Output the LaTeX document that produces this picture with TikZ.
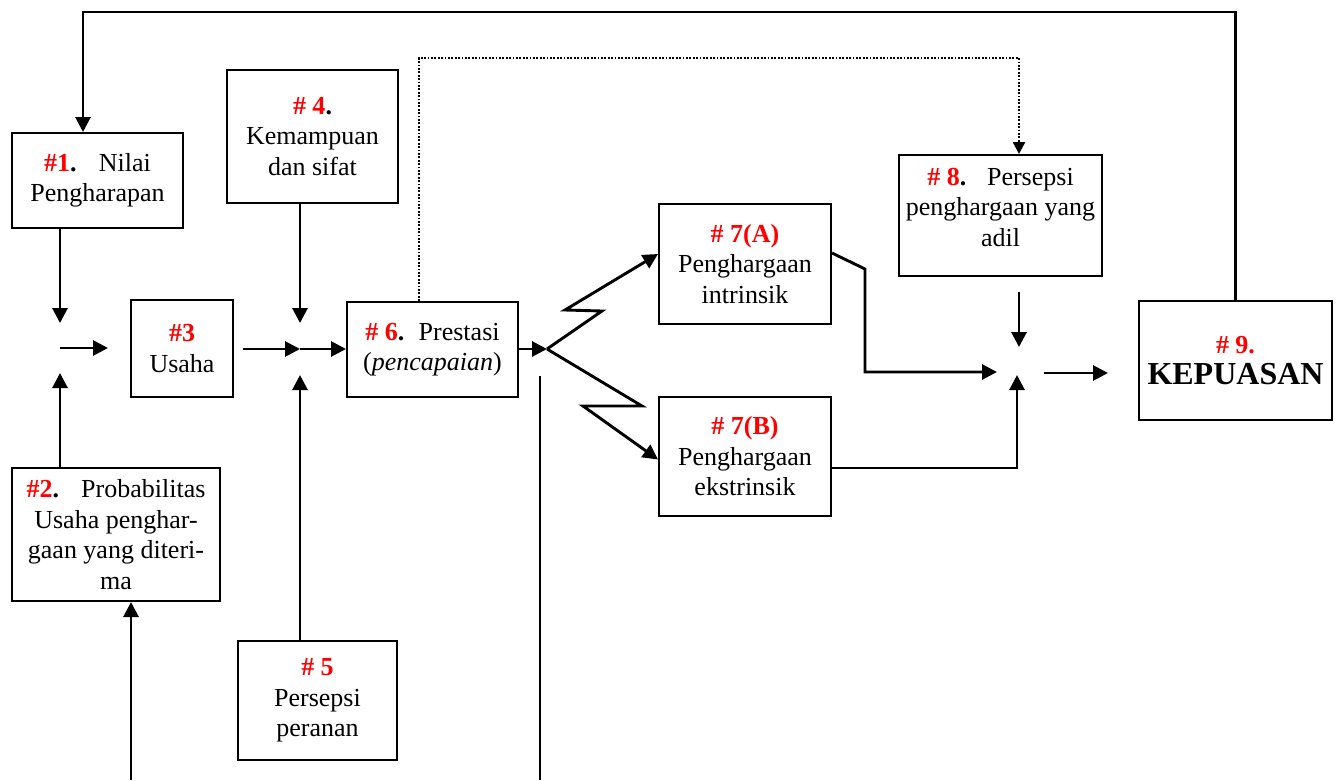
\documentclass[tikz,border=0pt]{standalone}
\usepackage{fontspec}
\setmainfont{Liberation Serif}
\usetikzlibrary{arrows.meta}
% red bold step number
\newcommand\tagnum[1]{\textcolor{red}{\textbf{#1}}}
\begin{document}
\begin{tikzpicture}[x=1pt,y=-1pt,
  box/.style={draw, line width=2pt, inner sep=0pt, align=center,
    font=\fontsize{26pt}{30.5pt}\selectfont},
  link/.style={line width=2.9pt, -{Triangle[length=15pt,width=15pt]}},
  plain/.style={line width=2.9pt},
  fine/.style={line width=2.4pt, dash pattern=on 1.8pt off 1.6pt,
    -{Triangle[length=12pt,width=12pt]}}]
\useasboundingbox (0,0) rectangle (1338,780);

% boxes
\node[box, minimum width=171pt, minimum height=95pt] (b1) at (97.5,180.5)
  {\tagnum{\#1}\textbf{.}\hspace{0.85em}Nilai\\Pengharapan};
\node[box, minimum width=208pt, minimum height=133pt] (b2) at (116,534.5)
  {\tagnum{\#2}\textbf{.}\hspace{0.85em}Probabilitas\\Usaha penghar-\\gaan yang diteri-\\ma};
\node[box, minimum width=102pt, minimum height=97pt] (b3) at (182,348.5)
  {\tagnum{\#3}\\Usaha};
\node[box, minimum width=171pt, minimum height=133pt] (b4) at (312.5,136.5)
  {\tagnum{\# 4}\textbf{.}\\Kemampuan\\dan sifat};
\node[box, minimum width=159pt, minimum height=119pt] (b5) at (317.5,700.5)
  {\tagnum{\# 5}\\Persepsi\\peranan};
\node[box, minimum width=171pt, minimum height=95pt] (b6) at (432.5,349.5)
  {\tagnum{\# 6}\textbf{.}\hspace{0.55em}Prestasi\\(\textit{pencapaian})};
\node[box, minimum width=172pt, minimum height=120pt] (b7a) at (745,264)
  {\tagnum{\# 7(A)}\\Penghargaan\\intrinsik};
\node[box, minimum width=172pt, minimum height=119pt] (b7b) at (745,456.5)
  {\tagnum{\# 7(B)}\\Penghargaan\\ekstrinsik};
\node[box, minimum width=203pt, minimum height=121pt] (b8) at (1000.5,215.5)
  {\tagnum{\# 8}\textbf{.}\hspace{0.8em}Persepsi\\penghargaan yang\\adil\\[-14pt]\mbox{}};
\node[box, minimum width=193pt, minimum height=119pt] (b9) at (1235.5,360.5)
  {\tagnum{\# 9.}\\{\fontsize{32pt}{36pt}\selectfont\bfseries KEPUASAN}};

% junction points and free ends
\coordinate (j1) at (60,348);
\coordinate (j1n) at (60,323);
\coordinate (j1s) at (60,373);
\coordinate (j1e) at (108,348);
\coordinate (j2) at (300,349);
\coordinate (j2n) at (300,323);
\coordinate (j2s) at (300,375);
\coordinate (u3) at (243,349);
\coordinate (j3) at (547,349);
\coordinate (za1) at (602,311);
\coordinate (za2) at (565,310);
\coordinate (zb1) at (642,406);
\coordinate (zb2) at (583,406);
\coordinate (ka) at (865,269);
\coordinate (j4w) at (997,372);
\coordinate (j4s) at (1017,375);
\coordinate (j4n0) at (1019,292);
\coordinate (j4n) at (1019,347);
\coordinate (o1) at (1044,373);
\coordinate (o2) at (1108,373);
\coordinate (tl) at (83,12);
\coordinate (d1) at (419,58);
\coordinate (d2) at (1019,58);
\coordinate (v1) at (540,376);
\coordinate (v2) at (540,780);
\coordinate (w1) at (131,780);

% effort stage
\draw[link] (b1.south -| j1) -- (j1n);
\draw[link] (b2.north -| j1) -- (j1s);
\draw[link] (j1) -- (j1e);
\draw[link] (w1) -- (w1 |- b2.south);

% performance stage
\draw[link] (u3) -- (j2);
\draw[link] (j2) -- (j2 -| b6.west);
\draw[link] (b4.south -| j2) -- (j2n);
\draw[link] (b5.north -| j2) -- (j2s);

% rewards
\draw[link] (b6.east |- j3) -- (j3);
\draw[link] (j3) -- (za1) -- (za2) -- ([yshift=10pt]b7a.west);
\draw[link] (j3) -- (zb1) -- (zb2) -- ([yshift=-3pt]b7b.west);
\draw[plain] (v1) -- (v2);

% satisfaction
\draw[link] ([yshift=11pt]b7a.east) -- (ka) |- (j4w);
\draw[link] ([yshift=-11.5pt]b7b.east) -| (j4s);
\draw[link] (j4n0) -- (j4n);
\draw[link] (o1) -- (o2);

% feedback loops
\draw[link] (b9.north) |- (tl) -- (tl |- b1.north);
\draw[fine] (b6.north -| d1) -- (d1) -- (d2) -- (d2 |- b8.north);
\end{tikzpicture}
\end{document}
